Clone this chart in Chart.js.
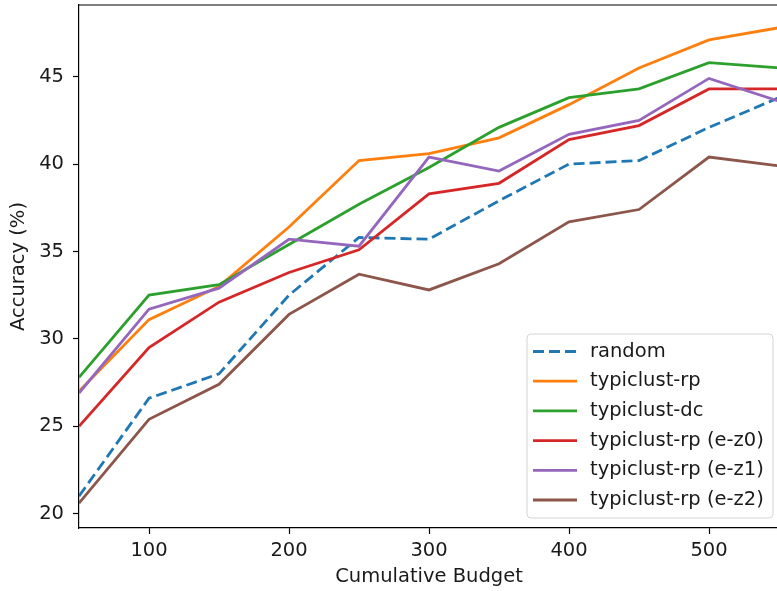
<!DOCTYPE html>
<html>
<head>
<meta charset="utf-8">
<script src="https://cdn.jsdelivr.net/npm/chart.js@4/dist/chart.umd.min.js"></script>
<style>
  html, body { margin: 0; padding: 0; background: #fff; overflow: hidden; }
  canvas { display: block; }
</style>
</head>
<body>
<canvas id="accChart" width="782" height="591"></canvas>
<script>
const budgets = [50, 100, 150, 200, 250, 300, 350, 400, 450, 500, 550];
const xTicks = [100, 200, 300, 400, 500];
const yTicks = [20, 25, 30, 35, 40, 45];

const seriesNames = ['random', 'typiclust-rp', 'typiclust-dc', 'typiclust-rp (e-z0)', 'typiclust-rp (e-z1)', 'typiclust-rp (e-z2)'];
const seriesColors = ['#1f77b4', '#ff7f0e', '#2ca02c', '#d62728', '#9467bd', '#8c564b'];

const randomAcc = [21.0, 26.6, 28.0, 32.5, 35.8, 35.7, 37.9, 40.0, 40.2, 42.1, 43.8];
const rpAcc     = [27.0, 31.1, 33.0, 36.4, 40.2, 40.6, 41.5, 43.4, 45.5, 47.1, 47.8];
const dcAcc     = [27.8, 32.5, 33.1, 35.4, 37.7, 39.8, 42.1, 43.8, 44.3, 45.8, 45.5];
const ez0Acc    = [25.0, 29.5, 32.1, 33.8, 35.1, 38.3, 38.9, 41.4, 42.2, 44.3, 44.3];
const ez1Acc    = [26.9, 31.7, 32.9, 35.7, 35.3, 40.4, 39.6, 41.7, 42.5, 44.9, 43.6];
const ez2Acc    = [20.6, 25.4, 27.4, 31.4, 33.7, 32.8, 34.3, 36.7, 37.4, 40.4, 39.9];

const allSeries = [randomAcc, rpAcc, dcAcc, ez0Acc, ez1Acc, ez2Acc];
const FONT = '"DejaVu Sans", sans-serif';
const FSIZE = 19.5;
const TEXT = '#1a1a1a';
const LW = 2.8;
const DASH = [11, 5];

const datasets = allSeries.map((vals, i) => ({
  label: seriesNames[i],
  data: budgets.map((b, j) => ({ x: b, y: vals[j] })),
  borderColor: seriesColors[i],
  borderWidth: LW,
  borderDash: i === 0 ? DASH : [],
  pointRadius: 0,
  tension: 0,
  fill: false,
  order: allSeries.length - i  // later series drawn on top
}));

// no extra room for half tick labels at the axis ends
function noPad(s) {
  s.paddingTop = 0;
  s.paddingBottom = 0;
  s.paddingLeft = 0;
  s.paddingRight = 0;
}

// axis titles, top spine and the boxed legend
const decor = {
  id: 'decor',
  afterDraw(chart) {
    const ctx = chart.ctx;
    const area = chart.chartArea;
    ctx.save();

    ctx.strokeStyle = '#000';
    ctx.lineWidth = 1.2;
    ctx.beginPath();
    ctx.moveTo(area.left, area.top);
    ctx.lineTo(area.right, area.top);
    ctx.stroke();

    ctx.fillStyle = TEXT;
    ctx.font = FSIZE + 'px ' + FONT;
    ctx.textAlign = 'center';
    ctx.textBaseline = 'middle';
    ctx.fillText('Cumulative Budget', (area.left + area.right) / 2, 577);

    ctx.save();
    ctx.translate(19, (area.top + area.bottom) / 2);
    ctx.rotate(-Math.PI / 2);
    ctx.fillText('Accuracy (%)', 0, 0);
    ctx.restore();

    // legend
    const bx = 527, by = 334, bw = 246, bh = 184, r = 4;
    ctx.beginPath();
    ctx.moveTo(bx + r, by);
    ctx.arcTo(bx + bw, by, bx + bw, by + bh, r);
    ctx.arcTo(bx + bw, by + bh, bx, by + bh, r);
    ctx.arcTo(bx, by + bh, bx, by, r);
    ctx.arcTo(bx, by, bx + bw, by, r);
    ctx.closePath();
    ctx.fillStyle = 'rgba(255,255,255,0.8)';
    ctx.fill();
    ctx.strokeStyle = '#d4d4d4';
    ctx.lineWidth = 1;
    ctx.stroke();

    ctx.textAlign = 'left';
    seriesNames.forEach((name, i) => {
      const y = 351.5 + i * 29.7;
      ctx.strokeStyle = seriesColors[i];
      ctx.lineWidth = LW;
      ctx.setLineDash(i === 0 ? DASH : []);
      ctx.beginPath();
      ctx.moveTo(533, y);
      ctx.lineTo(577, y);
      ctx.stroke();
      ctx.setLineDash([]);
      ctx.fillStyle = TEXT;
      ctx.fillText(name, 590, y);
    });
    ctx.restore();
  }
};

new Chart(document.getElementById('accChart'), {
  type: 'line',
  data: { datasets },
  options: {
    responsive: false,
    animation: false,
    layout: { padding: { top: 5, right: 3, left: 0, bottom: 0 } },
    plugins: { legend: { display: false }, tooltip: { enabled: false } },
    scales: {
      x: {
        type: 'linear',
        min: 50,
        max: 550,
        afterFit: (s) => { s.height = 63; noPad(s); },
        afterBuildTicks: (s) => { s.ticks = xTicks.map((v) => ({ value: v })); },
        grid: { drawOnChartArea: false, drawTicks: true, tickLength: 6, tickColor: '#000', tickWidth: 1.2 },
        border: { display: true, color: '#000', width: 1.2 },
        ticks: { color: TEXT, font: { family: FONT, size: FSIZE }, padding: 5, maxRotation: 0 }
      },
      y: {
        type: 'linear',
        min: 19.18,
        max: 49.1,
        afterFit: (s) => { s.width = 79; noPad(s); },
        afterBuildTicks: (s) => { s.ticks = yTicks.map((v) => ({ value: v })); },
        grid: { drawOnChartArea: false, drawTicks: true, tickLength: 6, tickColor: '#000', tickWidth: 1.2 },
        border: { display: true, color: '#000', width: 1.2 },
        ticks: { color: TEXT, font: { family: FONT, size: FSIZE }, padding: 9 }
      }
    }
  },
  plugins: [decor]
});
</script>
</body>
</html>
